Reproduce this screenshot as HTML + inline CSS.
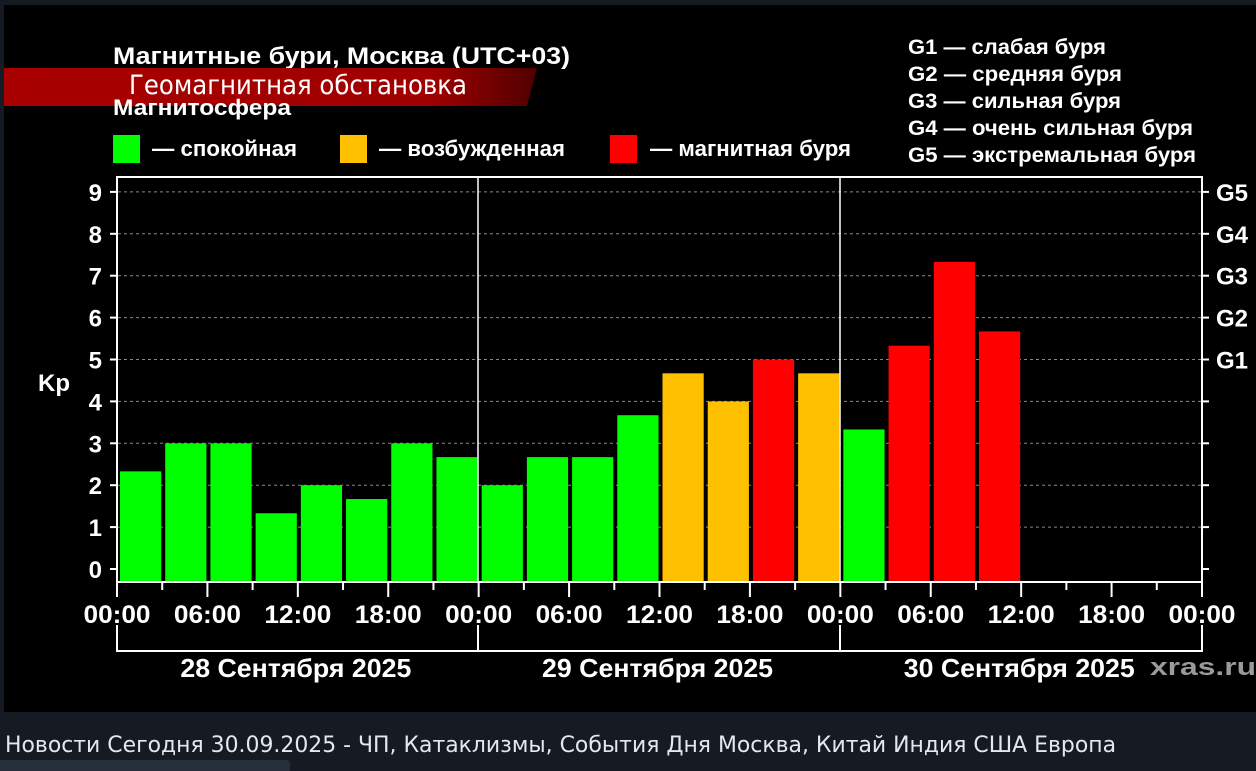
<!DOCTYPE html>
<html><head><meta charset="utf-8"><style>
body{margin:0;width:1256px;height:771px;background:#161b23;overflow:hidden;font-family:"Liberation Sans",sans-serif}
#strip{position:absolute;left:0;top:760px;width:290px;height:11px;background:#262e39;border-radius:0 4px 0 0}
</style></head><body>
<svg width="1256" height="771" style="position:absolute;left:0;top:0">
<defs><linearGradient id="rg" x1="0" x2="1"><stop offset="0" stop-color="#a80000"/><stop offset="0.8" stop-color="#a00000"/><stop offset="1" stop-color="#500000"/></linearGradient></defs>
<rect x="4" y="5" width="1252" height="707" fill="#000"/>
<g font-family="Liberation Sans, sans-serif" font-weight="bold" fill="#fff">
<text x="113" y="64" font-size="24" textLength="457" lengthAdjust="spacingAndGlyphs">Магнитные бури, Москва (UTC+03)</text>
<polygon points="4,68 537,68 527,106 4,106" fill="url(#rg)"/>
<text x="129" y="94" font-size="27" font-weight="normal" font-family="DejaVu Sans Condensed, DejaVu Sans, sans-serif" textLength="338" lengthAdjust="spacingAndGlyphs">Геомагнитная обстановка</text>
<text x="113" y="115" font-size="22" textLength="178" lengthAdjust="spacingAndGlyphs">Магнитосфера</text>
<rect x="113" y="135" width="27" height="28" fill="#00ff00"/>
<text x="152" y="156" font-size="22" textLength="145" lengthAdjust="spacingAndGlyphs">— спокойная</text>
<rect x="340" y="135" width="27" height="28" fill="#ffc000"/>
<text x="379" y="156" font-size="22" textLength="186" lengthAdjust="spacingAndGlyphs">— возбужденная</text>
<rect x="610" y="135" width="27" height="28" fill="#ff0000"/>
<text x="650" y="156" font-size="22" textLength="201" lengthAdjust="spacingAndGlyphs">— магнитная буря</text>
<g font-size="21">
<text x="908" y="54" textLength="198" lengthAdjust="spacingAndGlyphs">G1 — слабая буря</text>
<text x="908" y="81" textLength="214" lengthAdjust="spacingAndGlyphs">G2 — средняя буря</text>
<text x="908" y="108" textLength="213" lengthAdjust="spacingAndGlyphs">G3 — сильная буря</text>
<text x="908" y="135" textLength="285" lengthAdjust="spacingAndGlyphs">G4 — очень сильная буря</text>
<text x="908" y="162" textLength="288" lengthAdjust="spacingAndGlyphs">G5 — экстремальная буря</text>
</g>
<text x="38" y="391" font-size="24">Kp</text>
</g>
<g id="grid" stroke="#888" stroke-dasharray="3,3" stroke-width="1"></g>
<g id="bars"></g>
<g stroke="#fff" stroke-width="2" fill="none">
<rect x="117" y="177" width="1085" height="405"/>
<line x1="478" y1="177" x2="478" y2="582" stroke-width="1.5"/>
<line x1="840" y1="177" x2="840" y2="582" stroke-width="1.5"/>
<path d="M117,625 V651 H1202 V625 M478,625 V651 M840,625 V651"/>
</g>
<g id="ticks" stroke="#fff" stroke-width="2"></g>
<g id="labels" font-family="Liberation Sans, sans-serif" font-weight="bold" fill="#fff"></g>
<text x="1150" y="675" font-family="Liberation Sans, sans-serif" font-weight="bold" font-size="24" fill="#9a9a9a" textLength="106" lengthAdjust="spacingAndGlyphs">xras.ru</text>
<text x="5" y="752" font-family="DejaVu Sans, Liberation Sans, sans-serif" font-size="22" fill="#e4e8ee" textLength="1111" lengthAdjust="spacingAndGlyphs">Новости Сегодня 30.09.2025 - ЧП, Катаклизмы, События Дня Москва, Китай Индия США Европа</text>
</svg>
<div id="strip"></div>
<script>
var ns="http://www.w3.org/2000/svg";
function el(p,t,a,txt){var e=document.createElementNS(ns,t);for(var k in a)e.setAttribute(k,a[k]);if(txt!=null)e.textContent=txt;document.getElementById(p).appendChild(e);}
function Y(v){return 569-v*41.9;}
for(var i=0;i<=9;i++){var y=Y(i);
 if(i>0) el("grid","line",{x1:118,x2:1201,y1:y,y2:y});
 el("ticks","line",{x1:110,x2:117,y1:y,y2:y});
 el("ticks","line",{x1:1202,x2:1209,y1:y,y2:y});
 el("labels","text",{x:102,y:y+9,"font-size":24,"text-anchor":"end"},i);
 if(i>=5) el("labels","text",{x:1216,y:y+9,"font-size":24},"G"+(i-4));
}
var vals=[2.33,3,3,1.33,2,1.67,3,2.67,2,2.67,2.67,3.67,4.67,4,5,4.67,3.33,5.33,7.33,5.67];
var bw=1085/24;
vals.forEach(function(v,i){var c=v>=5?"#ff0000":(v>=4?"#ffc000":"#00ff00");
 var x=117+i*bw+3;el("bars","rect",{x:x,y:Y(v),width:bw-4,height:582-Y(v),fill:c});});
for(var j=0;j<=24;j++){var x=117+j*bw;var major=j%2==0;
 el("ticks","line",{x1:x,x2:x,y1:582,y2:major?597:590});}
var tl=["00:00","06:00","12:00","18:00"];
for(var j=0;j<=12;j++){var x=117+j*2*bw;
 el("labels","text",{x:x,y:623,"font-size":25,"text-anchor":"middle",textLength:67,lengthAdjust:"spacingAndGlyphs"},j==12?"00:00":tl[j%4]);}
["28","29","30"].forEach(function(d,i){el("labels","text",{x:117+(i+0.5)*361.7-2,y:677,"font-size":26,"text-anchor":"middle",textLength:231,lengthAdjust:"spacingAndGlyphs"},d+" Сентября 2025");});
</script>
</body></html>
